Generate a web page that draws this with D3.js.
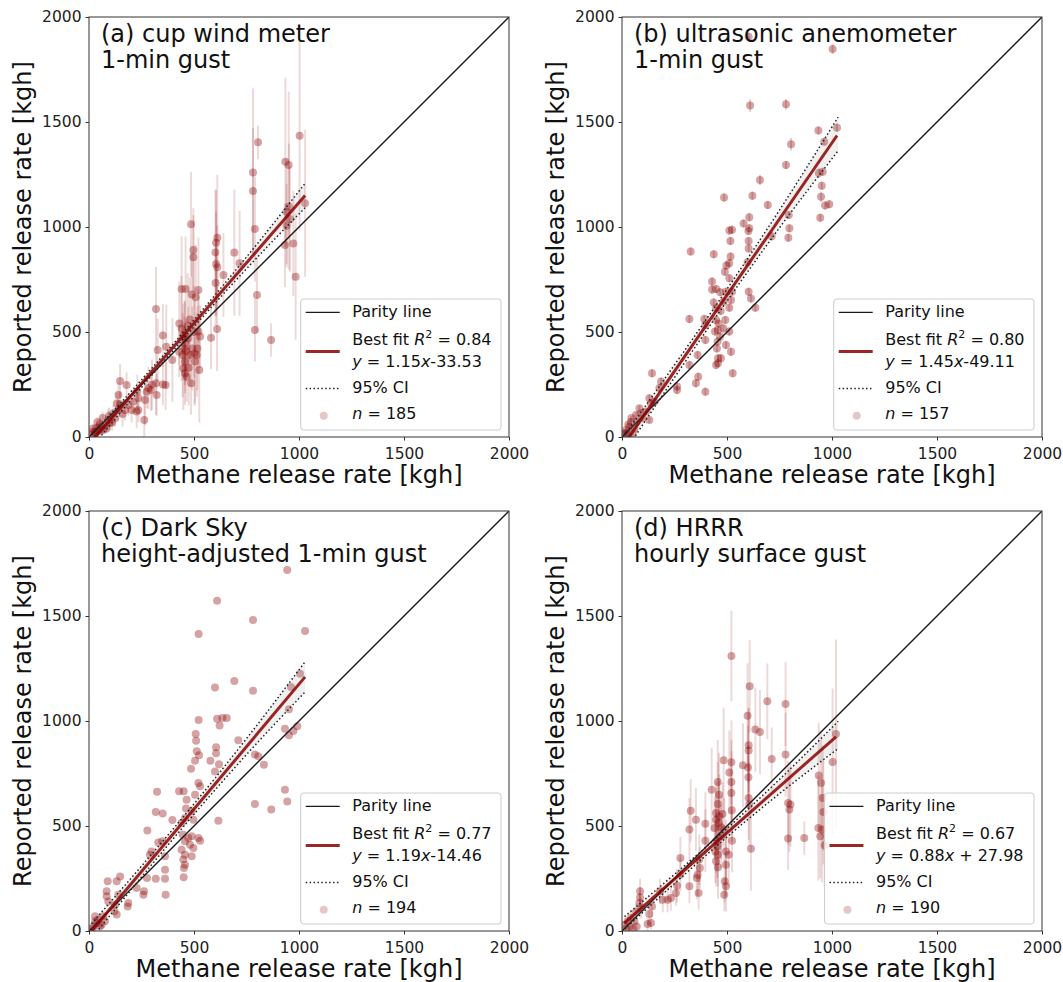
<!DOCTYPE html>
<html>
<head>
<meta charset="utf-8">
<script src="https://cdn.jsdelivr.net/npm/d3@7"></script>
<style>
body { margin: 0; background: #fff; }
svg text { font-family: "DejaVu Sans", sans-serif; }
</style>
</head>
<body>
<svg id="fig" width="1063" height="982"></svg>
<script>
// ---- data (kgh) ----
var panelTitles = [
	["(a) cup wind meter", "1-min gust"],
	["(b) ultrasonic anemometer", "1-min gust"],
	["(c) Dark Sky", "height-adjusted 1-min gust"],
	["(d) HRRR", "hourly surface gust"]
];
var fitSlopes = [1.15, 1.45, 1.19, 0.88];
var fitIntercepts = [-33.53, -49.11, -14.46, 27.98];
var fitR2 = ["0.84", "0.80", "0.77", "0.67"];
var sampleCounts = [185, 157, 194, 190];
var tickValues = [0, 500, 1000, 1500, 2000];

// 95% CI half width of the fit, read at these x positions
var ciX = [12, 250, 480, 750, 1029];
var ciHalfA = [30, 18, 16, 28, 58];
var ciHalfB = [40, 30, 28, 42, 80];
var ciHalfC = [35, 26, 24, 38, 72];
var ciHalfD = [30, 22, 20, 34, 65];

// (a) cup wind meter
var aX = [1003,805,935,951,781,781,790,790,867,800,1029,952,941,957,941,973,933,984,486,497,497,611,605,602,605,611,603,692,717,640,
	441,460,521,508,489,581,610,319,352,327,368,397,365,352,319,148,179,267,263,235,203,295,275,430,441,449,457,454,446,457,
	449,457,465,486,492,481,502,521,529,516,525,513,473,429,148,140,116,124,92,100,76,60,44,29,13,21,37,52,68,84,
	171,187,211,227,322,235,140,132,283,300,230,470,480,455,500,30,50,18,95,110,160,40,65,475,462,505];
var aY = [1435,1403,1311,1295,1260,1171,990,510,462,676,1113,1097,1073,1038,1006,922,914,763,1013,890,856,949,925,879,824,808,733,878,827,771,
	705,705,700,665,679,473,514,610,483,414,430,367,248,250,256,267,248,176,81,129,129,224,216,541,517,486,446,422,390,359,
	327,303,287,256,422,390,398,502,478,422,319,390,470,406,156,129,113,89,81,65,57,49,33,25,13,25,44,60,33,41,
	129,152,168,121,200,184,200,160,233,249,217,530,560,470,500,15,30,40,100,70,110,70,90,330,410,360];
var aErr = [450,80,400,350,400,300,250,150,80,180,350,300,250,250,200,250,200,300,250,200,200,300,250,300,250,200,200,300,250,200,
	250,250,250,250,200,150,200,200,150,150,200,200,120,100,150,80,60,120,150,60,60,100,80,200,250,150,200,150,200,150,
	200,150,120,150,200,150,250,200,150,200,250,200,150,120,60,50,40,40,50,30,30,30,20,20,10,15,25,30,20,25,
	50,50,60,80,100,60,60,50,100,120,80,250,200,180,220,15,20,20,40,40,60,25,30,180,150,200];

// (b) ultrasonic anemometer
var bX = [603,1003,610,781,935,1024,963,805,781,657,486,621,937,956,951,948,967,987,944,694,794,606,579,511,524,606,602,713,792,797,
	516,603,603,517,511,490,511,497,598,327,437,429,429,448,468,495,524,519,483,511,437,448,603,614,635,321,392,397,448,457,
	467,443,483,492,511,495,519,452,457,457,448,471,527,397,360,363,352,397,321,262,262,143,186,178,130,138,83,90,67,130,
	43,35,59,19,11,27,51,70,98,114,154,460,470,455,30,45,20];
var bY = [1906,1848,1578,1584,1460,1473,1406,1394,1295,1224,1140,1149,1257,1263,1197,1144,1102,1108,1044,1105,1057,1046,1017,983,987,994,981,956,949,994,
	933,933,898,859,827,787,756,817,832,883,870,740,702,705,689,692,692,652,644,616,641,613,692,660,616,562,562,533,557,510,
	478,502,517,557,502,438,406,422,375,351,343,375,303,462,390,287,256,216,343,240,224,303,264,233,184,160,137,113,105,81,
	73,49,41,33,17,13,17,73,89,121,168,540,600,455,60,90,20];
var bErr = [20,25,30,25,20,20,20,30,20,25,20,20,25,20,20,25,20,20,20,20,20,20,20,20,20,20,20,20,20,20,
	20,20,20,20,20,20,20,20,20,20,20,20,20,20,20,20,20,20,20,20,20,20,20,20,20,20,20,20,20,20,
	20,20,20,20,20,20,20,20,20,20,20,20,20,20,20,20,20,20,20,20,20,20,20,20,20,20,15,15,15,15,
	15,10,10,10,10,10,10,15,15,15,20,20,20,20,10,10,10];

// (c) Dark Sky
var cX = [944,610,781,1029,522,692,600,781,1005,962,952,933,973,952,992,522,610,622,635,656,508,510,513,524,505,486,578,600,605,605,
	619,711,790,806,833,521,529,505,465,451,429,324,318,351,616,397,457,441,489,462,497,278,446,473,489,457,481,441,457,449,
	457,452,489,497,521,529,451,330,349,298,290,362,362,362,318,276,365,262,259,227,187,184,140,148,132,89,84,84,92,124,
	121,132,29,44,60,21,37,13,52,76,68,29,790,933,944,868];
var cY = [1719,1573,1481,1429,1414,1190,1159,1144,1225,1162,1056,963,952,932,975,1005,1011,979,1014,1014,938,906,856,837,811,773,811,760,875,846,
	794,908,840,832,792,705,689,649,625,665,665,663,567,560,525,529,538,514,570,583,530,478,459,443,451,427,411,387,363,340,
	316,300,356,395,443,430,256,422,427,379,363,356,292,249,249,252,173,189,173,205,133,117,173,260,237,237,189,165,141,125,
	94,78,70,54,30,22,38,11,22,46,70,46,605,673,617,578];

// (d) HRRR
var dX = [521,608,692,779,598,635,657,713,779,1019,1003,603,603,600,602,576,484,521,511,521,521,523,456,427,462,456,448,464,479,448,
	462,441,472,487,472,448,454,444,456,448,457,495,508,495,489,495,487,603,606,614,524,791,802,797,791,868,937,948,956,959,
	935,952,944,965,352,327,321,397,397,278,368,371,360,356,321,365,278,262,233,217,181,194,143,130,138,122,86,86,83,90,
	67,43,70,35,19,51,11,27,59,257];
var dY = [1310,1165,1094,1081,1025,959,948,819,840,938,805,884,860,779,732,789,813,803,755,710,657,575,710,673,649,605,562,546,557,530,
	514,490,494,483,451,427,403,379,363,332,303,379,363,316,237,213,173,633,602,392,430,610,602,578,441,443,741,705,633,567,
	490,483,451,408,530,573,483,511,430,348,340,300,268,252,213,181,268,216,157,149,189,149,117,81,38,33,189,160,133,110,
	90,62,22,22,11,11,30,46,46,181];
var dErr = [215,220,180,200,250,200,200,150,200,450,350,180,200,200,150,200,250,200,200,200,200,150,200,200,200,200,150,200,150,150,
	200,150,150,150,150,150,150,150,150,120,150,150,150,150,100,120,80,200,200,200,150,200,200,200,150,80,250,250,250,250,
	250,250,200,200,150,150,150,150,150,100,120,100,100,100,80,80,80,80,60,60,60,60,50,50,30,30,60,50,50,50,
	40,30,20,20,10,15,15,20,20,60];

var panelXs = [aX, bX, cX, dX];
var panelYs = [aY, bY, cY, dY];
var panelErrs = [aErr, bErr, null, dErr];
var panelCi = [ciHalfA, ciHalfB, ciHalfC, ciHalfD];

// ---- layout ----
var size = 420;
var origins = [[89, 17], [622, 17], [89, 511], [622, 511]];
var red = "#8b0000";

var svg = d3.select("#fig");

for (var p = 0; p < 4; p++) {
	drawPanel(p);
}

function eqTail(b) {
	if (b < 0) return "-" + Math.abs(b).toFixed(2);
	return " + " + b.toFixed(2);
}

function drawPanel(p) {
	var L = origins[p][0], T = origins[p][1];
	var xs = panelXs[p], ys = panelYs[p], errs = panelErrs[p];
	var slope = fitSlopes[p], icpt = fitIntercepts[p];

	var x = d3.scaleLinear().domain([0, 2000]).range([0, size]);
	var y = d3.scaleLinear().domain([0, 2000]).range([size, 0]);

	var g = svg.append("g").attr("transform", "translate(" + L + "," + T + ")");

	g.append("clipPath").attr("id", "clip" + p)
		.append("rect").attr("width", size).attr("height", size);

	var plot = g.append("g").attr("clip-path", "url(#clip" + p + ")");
	var idx = d3.range(xs.length);

	// error bars
	if (errs != null) {
		plot.selectAll(".err")
			.data(idx)
			.enter()
			.append("line")
			.attr("x1", function(i) { return x(xs[i]); })
			.attr("x2", function(i) { return x(xs[i]); })
			.attr("y1", function(i) { return y(ys[i] - errs[i]); })
			.attr("y2", function(i) { return y(ys[i] + errs[i]); })
			.attr("stroke", red)
			.attr("stroke-opacity", p == 1 ? 0.2 : 0.15)
			.attr("stroke-width", 2);
	}

	// points
	plot.selectAll(".pt")
		.data(idx)
		.enter()
		.append("circle")
		.attr("cx", function(i) { return x(xs[i]); })
		.attr("cy", function(i) { return y(ys[i]); })
		.attr("r", 4)
		.attr("fill", red)
		.attr("fill-opacity", 0.36);

	// parity line
	plot.append("line")
		.attr("x1", x(0)).attr("y1", y(0))
		.attr("x2", x(2000)).attr("y2", y(2000))
		.attr("stroke", "#1a1a1a")
		.attr("stroke-width", 1.4);

	// confidence band
	var ci = panelCi[p];
	var band = d3.area()
		.x(function(d, i) { return x(ciX[i]); })
		.y0(function(d, i) { return y(slope * ciX[i] + icpt - ci[i]); })
		.y1(function(d, i) { return y(slope * ciX[i] + icpt + ci[i]); })
		.curve(d3.curveMonotoneX);
	plot.append("path").datum(ci).attr("d", band)
		.attr("fill", "#808080").attr("fill-opacity", 0.12);

	// best fit
	var ext = d3.extent(xs);
	plot.append("line")
		.attr("x1", x(ext[0])).attr("y1", y(slope * ext[0] + icpt))
		.attr("x2", x(ext[1])).attr("y2", y(slope * ext[1] + icpt))
		.attr("stroke", red)
		.attr("stroke-opacity", 0.85)
		.attr("stroke-width", 3);

	[-1, 1].forEach(function(sgn) {
		var ln = d3.line()
			.x(function(d, i) { return x(ciX[i]); })
			.y(function(d, i) { return y(slope * ciX[i] + icpt + sgn * ci[i]); })
			.curve(d3.curveMonotoneX);
		plot.append("path").datum(ci).attr("d", ln)
			.attr("fill", "none")
			.attr("stroke", "#222")
			.attr("stroke-width", 1.5)
			.attr("stroke-dasharray", "1.5,2.4");
	});

	// frame
	g.append("rect").attr("width", size).attr("height", size)
		.attr("fill", "none").attr("stroke", "#333").attr("stroke-width", 1);

	// axes
	var xAxis = d3.axisBottom(x).tickValues(tickValues).tickSize(3.5).tickPadding(7).tickFormat(d3.format("d"));
	var yAxis = d3.axisLeft(y).tickValues(tickValues).tickSize(3.5).tickPadding(4).tickFormat(d3.format("d"));
	var gx = g.append("g").attr("transform", "translate(0," + size + ")").call(xAxis);
	var gy = g.append("g").call(yAxis);
	[gx, gy].forEach(function(a) {
		a.select(".domain").remove();
		a.selectAll("line").attr("stroke", "#333");
		a.selectAll("text").attr("fill", "#222").style("font-size", "15.5px")
			.style("font-family", "'DejaVu Sans', sans-serif");
	});

	g.append("text")
		.attr("x", size / 2).attr("y", size + 46)
		.attr("text-anchor", "middle")
		.style("font-size", "24px").attr("fill", "#111")
		.text("Methane release rate [kgh]");
	g.append("text")
		.attr("transform", "translate(-58," + (size / 2) + ") rotate(-90)")
		.attr("text-anchor", "middle")
		.style("font-size", "24px").attr("fill", "#111")
		.text("Reported release rate [kgh]");

	// panel title
	var title = g.append("text").style("font-size", "24px").attr("fill", "#111");
	title.append("tspan").attr("x", 12).attr("y", 25).text(panelTitles[p][0]);
	title.append("tspan").attr("x", 12).attr("y", 51).text(panelTitles[p][1]);

	addLegend(g, p);
}

function addLegend(g, p) {
	var leg = g.append("g");
	var box = leg.append("rect");
	var txt = leg.append("g").style("font-size", "16px").attr("fill", "#111");

	txt.append("text").attr("x", 51.5).attr("y", 18).text("Parity line");
	var t2 = txt.append("text").attr("x", 51.5).attr("y", 45.7);
	t2.append("tspan").text("Best fit ");
	t2.append("tspan").style("font-style", "italic").text("R");
	t2.append("tspan").attr("dy", -7).style("font-size", "11px").text("2");
	t2.append("tspan").attr("dy", 7).text(" = " + fitR2[p]);
	var t3 = txt.append("text").attr("x", 51.5).attr("y", 68);
	t3.append("tspan").style("font-style", "italic").text("y");
	t3.append("tspan").text(" = " + fitSlopes[p].toFixed(2));
	t3.append("tspan").style("font-style", "italic").text("x");
	t3.append("tspan").text(eqTail(fitIntercepts[p]));
	txt.append("text").attr("x", 51.5).attr("y", 94.4).text("95% CI");
	var t5 = txt.append("text").attr("x", 51.5).attr("y", 120);
	t5.append("tspan").style("font-style", "italic").text("n");
	t5.append("tspan").text(" = " + sampleCounts[p]);

	leg.append("line").attr("x1", 5).attr("x2", 39).attr("y1", 13.4).attr("y2", 13.4)
		.attr("stroke", "#1a1a1a").attr("stroke-width", 1.4);
	leg.append("line").attr("x1", 5).attr("x2", 39).attr("y1", 52.4).attr("y2", 52.4)
		.attr("stroke", red).attr("stroke-opacity", 0.85).attr("stroke-width", 3);
	leg.append("line").attr("x1", 5).attr("x2", 39).attr("y1", 89.4).attr("y2", 89.4)
		.attr("stroke", "#222").attr("stroke-width", 1.5).attr("stroke-dasharray", "1.5,2.4");
	leg.append("circle").attr("cx", 23).attr("cy", 116.7).attr("r", 4)
		.attr("fill", red).attr("fill-opacity", 0.22);

	var maxW = 0;
	txt.selectAll("text").each(function() { maxW = Math.max(maxW, this.getBBox().width); });
	var w = 51.5 + maxW + 9.5, h = 131;
	box.attr("width", w).attr("height", h).attr("rx", 3)
		.attr("fill", "#fff").attr("fill-opacity", 0.8)
		.attr("stroke", "#cccccc").attr("stroke-width", 1);
	leg.attr("transform", "translate(" + (size - 8 - w) + "," + (size - 7 - h) + ")");
}
</script>
</body>
</html>
